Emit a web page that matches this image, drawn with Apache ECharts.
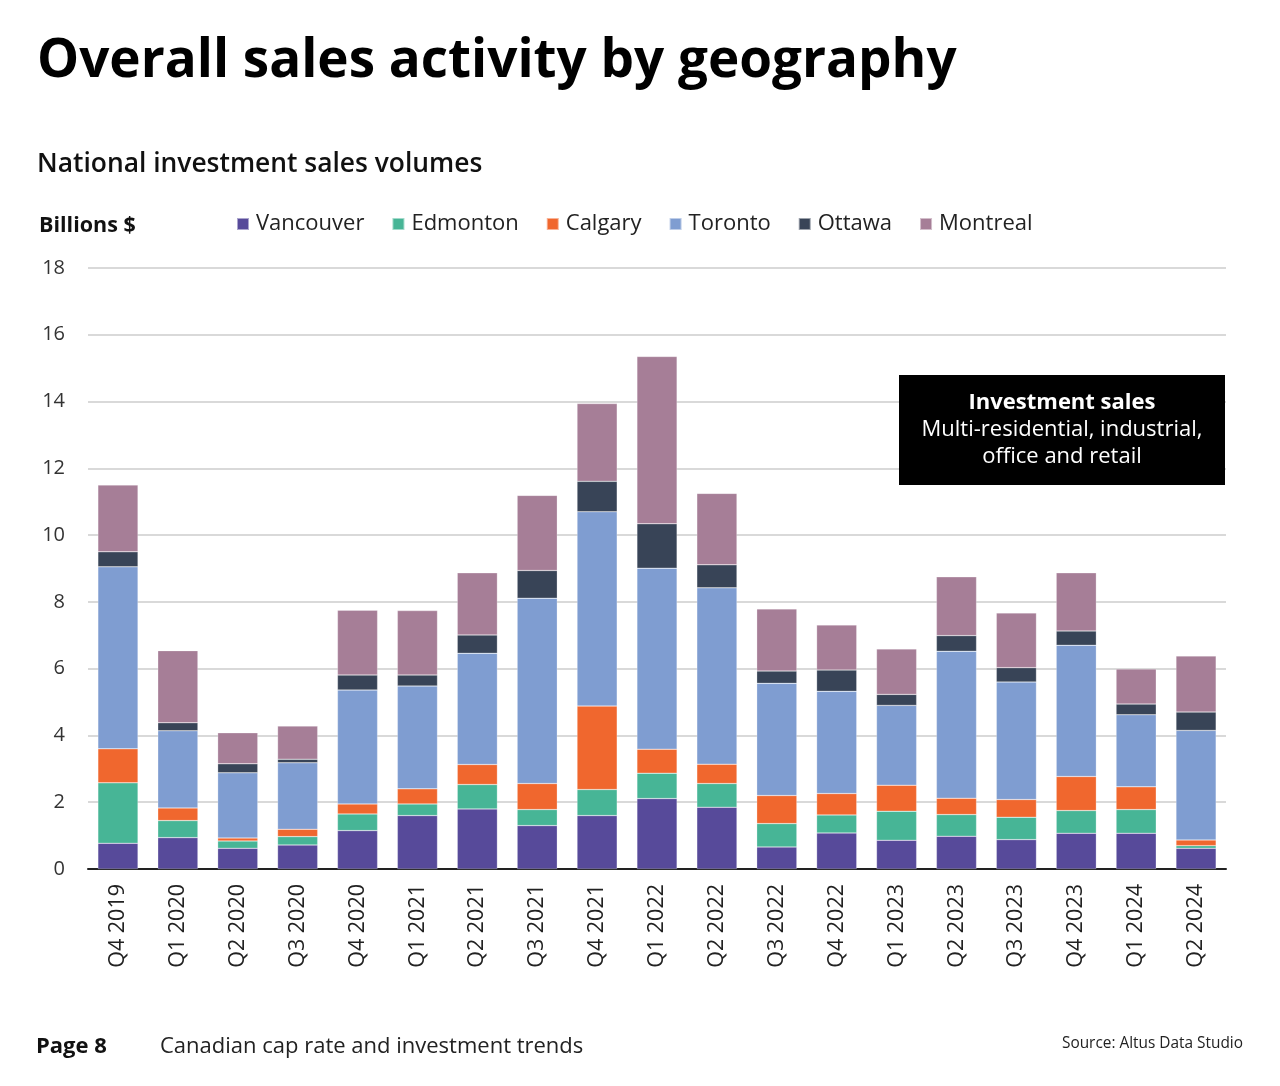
<!DOCTYPE html>
<html><head><meta charset="utf-8">
<script src="https://cdn.jsdelivr.net/npm/echarts@6/dist/echarts.min.js"></script>
<style>html,body{margin:0;padding:0;background:#fff}#c{width:1280px;height:1086px}</style>
</head><body><div id="c"></div>
<script>
const categories = ['Q4 2019','Q1 2020','Q2 2020','Q3 2020','Q4 2020','Q1 2021','Q2 2021','Q3 2021','Q4 2021','Q1 2022','Q2 2022','Q3 2022','Q4 2022','Q1 2023','Q2 2023','Q3 2023','Q4 2023','Q1 2024','Q2 2024'];
const vancouver = [0.77,0.94,0.62,0.72,1.15,1.60,1.80,1.30,1.60,2.11,1.85,0.66,1.08,0.86,0.98,0.88,1.07,1.07,0.62];
const edmonton  = [1.81,0.51,0.22,0.25,0.50,0.35,0.73,0.48,0.78,0.76,0.71,0.70,0.54,0.87,0.65,0.67,0.68,0.71,0.08];
const calgary   = [1.02,0.38,0.09,0.22,0.30,0.45,0.60,0.78,2.50,0.72,0.58,0.84,0.64,0.78,0.49,0.53,1.02,0.68,0.17];
const toronto   = [5.45,2.31,1.95,1.99,3.41,3.08,3.33,5.55,5.82,5.42,5.28,3.36,3.06,2.39,4.40,3.52,3.93,2.16,3.28];
const ottawa    = [0.45,0.24,0.27,0.11,0.45,0.33,0.55,0.83,0.91,1.33,0.69,0.37,0.64,0.33,0.47,0.43,0.43,0.32,0.55];
const montreal  = [2.00,2.16,0.93,0.99,1.94,1.93,1.86,2.25,2.33,5.01,2.14,1.86,1.35,1.36,1.76,1.64,1.74,1.05,1.68];
const yTicks = [0,2,4,6,8,10,12,14,16,18];

const FONT = '"Open Sans", "Noto Sans", sans-serif';
const seriesDefs = [
  ['Vancouver', vancouver, '#574a9a'],
  ['Edmonton', edmonton, '#47b596'],
  ['Calgary', calgary, '#f0672e'],
  ['Toronto', toronto, '#7f9dd1'],
  ['Ottawa', ottawa, '#384457'],
  ['Montreal', montreal, '#a67e97']
];
const chart = echarts.init(document.getElementById('c'), null, {renderer:'canvas'});
chart.setOption({
  animation:false,
  textStyle:{fontFamily:FONT},
  title:[
    {text:'Overall sales activity by geography', left:32, top:30, textStyle:{fontFamily:FONT, fontSize:53, fontWeight:'bold', color:'#000'}},
    {text:'National investment sales volumes', left:32, top:146, textStyle:{fontFamily:FONT, fontSize:26.4, fontWeight:600, color:'#111'}},
    {text:'Billions $', left:34, top:210, textStyle:{fontFamily:FONT, fontSize:21.5, fontWeight:'bold', color:'#111'}}
  ],
  legend:{
    left:231, top:208, icon:'rect', itemWidth:12, itemHeight:12, itemGap:27,
    textStyle:{fontFamily:FONT, fontSize:22, color:'#222', padding:[0,0,0,2]},
    data:seriesDefs.map(s=>s[0])
  },
  grid:{left:88, right:54, top:268, bottom:217},
  xAxis:{
    type:'category', data:categories,
    axisLine:{lineStyle:{color:'#222', width:2}},
    axisTick:{show:false},
    axisLabel:{rotate:90, fontSize:21.5, color:'#222', margin:15, fontFamily:FONT}
  },
  yAxis:{
    type:'value', min:0, max:yTicks[yTicks.length-1], interval:2,
    axisLine:{show:false}, axisTick:{show:false},
    axisLabel:{fontSize:20, color:'#333', margin:23, fontFamily:FONT},
    splitLine:{lineStyle:{color:'#d9d9d9', width:2}}
  },
  series:seriesDefs.map(s=>({
    name:s[0], type:'bar', stack:'total', data:s[1], barWidth:'67%',
    itemStyle:{color:s[2], borderColor:'rgba(255,255,255,0.5)', borderWidth:0.5}
  })),
  graphic:[
    {type:'rect', z:100, shape:{x:899, y:375, width:326, height:110}, style:{fill:'#000'}},
    {type:'text', z:101, x:1062, y:403, style:{text:'Investment sales', fill:'#fff', font:'bold 22px "Open Sans", sans-serif', textAlign:'center', textVerticalAlign:'middle'}},
    {type:'text', z:101, x:1062, y:430, style:{text:'Multi-residential, industrial,', fill:'#fff', font:'22px "Open Sans", sans-serif', textAlign:'center', textVerticalAlign:'middle'}},
    {type:'text', z:101, x:1062, y:457, style:{text:'office and retail', fill:'#fff', font:'22px "Open Sans", sans-serif', textAlign:'center', textVerticalAlign:'middle'}},
    {type:'text', x:36, y:1047, style:{text:'Page 8', fill:'#111', font:'bold 22px "Open Sans", sans-serif', textVerticalAlign:'middle'}},
    {type:'text', x:160, y:1047, style:{text:'Canadian cap rate and investment trends', fill:'#222', font:'22px "Open Sans", sans-serif', textVerticalAlign:'middle'}},
    {type:'text', x:1243, y:1044, style:{text:'Source: Altus Data Studio', fill:'#222', font:'15.4px "Open Sans", sans-serif', textAlign:'right', textVerticalAlign:'middle'}}
  ]
});
</script></body></html>
